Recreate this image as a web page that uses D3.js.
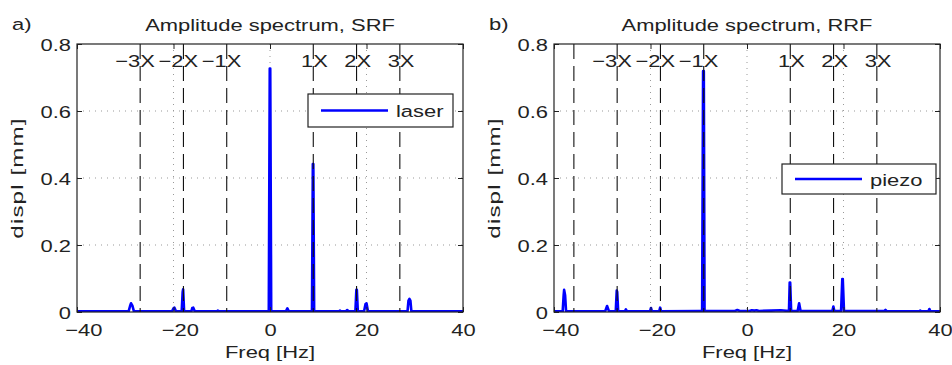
<!DOCTYPE html>
<html>
<head>
<meta charset="utf-8">
<script src="https://cdn.jsdelivr.net/npm/d3@7"></script>
<style>
  body { margin: 0; background: #fff; }
  svg text { font-family: "Liberation Sans", Arial, sans-serif; fill: #222; }
</style>
</head>
<body>
<svg id="chart" width="952" height="365"></svg>
<script>
// values
const xTicks = [-40, -20, 0, 20, 40]
const yTicks = [0, 0.2, 0.4, 0.6, 0.8]
const xGrid = [-20, 0, 20]
const yGrid = [0.2, 0.4, 0.6]
const rotorHz = 8.97

const ordersSRF = [-3, -2, -1, 1, 2, 3]
const labelsSRF = ['−3X', '−2X', '−1X', '1X', '2X', '3X']
const ordersRRF = [-4, -3, -2, -1, 1, 2, 3]
const labelsRRF = ['', '−3X', '−2X', '−1X', '1X', '2X', '3X']

// SRF (laser) amplitude spectrum
const srfFreq = [-40, -35, -29.3, -29.0, -28.8, -28.5, -28.2, -20.3, -20.0, -19.8, -19.5,
  -18.3, -18.1, -18.0, -17.8, -16.3, -16.1, -15.9, -15.6, -11.0, -10.8, -10.5,
  -0.25, -0.05, 0.05, 0.25, 3.3, 3.6, 3.9, 8.7, 8.88, 8.98, 9.15,
  14.3, 14.5, 14.7, 15.7, 16.0, 16.3, 17.7, 17.9, 18.0, 18.2,
  19.5, 19.8, 20.0, 20.3, 28.5, 28.7, 28.9, 29.1, 29.3, 40]
const srfAmp = [0.002, 0.002, 0.002, 0.018, 0.026, 0.018, 0.002, 0.002, 0.011, 0.013, 0.002,
  0.002, 0.060, 0.068, 0.002, 0.002, 0.012, 0.013, 0.002, 0.002, 0.004, 0.002,
  0.002, 0.727, 0.727, 0.002, 0.002, 0.011, 0.002, 0.002, 0.442, 0.442, 0.002,
  0.002, 0.004, 0.002, 0.002, 0.006, 0.002, 0.002, 0.066, 0.066, 0.002,
  0.002, 0.024, 0.026, 0.002, 0.002, 0.034, 0.039, 0.034, 0.002, 0.002]

// RRF (piezo) amplitude spectrum
const rrfFreq = [-40, -38.2, -38.0, -37.9, -37.7, -37.5, -29.4, -29.0, -28.6, -27.2, -27.0, -26.9, -26.7,
  -25.3, -25.1, -24.9, -20.1, -19.9, -19.7, -18.2, -18.0, -17.8, -10.0, -9.3, -9.1, -8.95, -8.8,
  -2.5, -2.0, -1.5, 0.5, 1.0, 1.5, 2.0, 2.5, 5.0, 7.0, 8.7, 8.85, 8.95, 9.15,
  10.5, 10.8, 11.1, 17.7, 17.9, 18.1, 19.5, 19.75, 19.85, 20.1,
  28.5, 28.7, 28.9, 35.7, 35.9, 36.1, 37.6, 37.8, 38.0, 40]
const rrfAmp = [0.002, 0.002, 0.050, 0.066, 0.050, 0.002, 0.002, 0.018, 0.002, 0.002, 0.064, 0.060, 0.002,
  0.002, 0.008, 0.002, 0.002, 0.012, 0.002, 0.002, 0.013, 0.002, 0.003, 0.003, 0.719, 0.719, 0.003,
  0.003, 0.006, 0.003, 0.003, 0.005, 0.004, 0.005, 0.003, 0.004, 0.005, 0.003, 0.088, 0.088, 0.003,
  0.003, 0.026, 0.003, 0.003, 0.016, 0.003, 0.003, 0.098, 0.098, 0.003,
  0.003, 0.006, 0.003, 0.002, 0.004, 0.002, 0.002, 0.009, 0.002, 0.002]

const SX = 1.29      // the printed figure is stretched horizontally
const FS = 17
const plotTop = 44, plotBottom = 312, plotW = 386

const panels = [
  { tag: 'a)', title: 'Amplitude spectrum, SRF', left: 77, freq: srfFreq, amp: srfAmp,
    orders: ordersSRF, labels: labelsSRF, legend: 'laser', lg: { x: 308, y: 94, w: 145, h: 33 } },
  { tag: 'b)', title: 'Amplitude spectrum, RRF', left: 554, freq: rrfFreq, amp: rrfAmp,
    orders: ordersRRF, labels: labelsRRF, legend: 'piezo', lg: { x: 782, y: 164, w: 154, h: 30 } }
]

const svg = d3.select('#chart')

function addText(sel, x, y, str, anchor) {
  return sel.append('text')
    .attr('transform', `translate(${x},${y}) scale(${SX},1)`)
    .attr('text-anchor', anchor)
    .style('font-size', FS + 'px')
    .text(str)
}

panels.forEach((p, pi) => {
  const x = d3.scaleLinear().domain([-40, 40]).range([p.left, p.left + plotW])
  const y = d3.scaleLinear().domain([0, 0.8]).range([plotBottom, plotTop])
  const g = svg.append('g')

  const clipId = 'clip' + pi
  g.append('clipPath').attr('id', clipId)
    .append('rect').attr('x', p.left).attr('y', plotTop).attr('width', plotW).attr('height', plotBottom - plotTop)

  // dotted grid
  g.append('g').selectAll('line').data(xGrid).join('line')
    .attr('x1', d => x(d)).attr('x2', d => x(d)).attr('y1', plotTop).attr('y2', plotBottom)
    .attr('stroke', '#999').attr('stroke-dasharray', '1,5')
  g.append('g').selectAll('line').data(yGrid).join('line')
    .attr('x1', p.left).attr('x2', p.left + plotW).attr('y1', d => y(d)).attr('y2', d => y(d))
    .attr('stroke', '#999').attr('stroke-dasharray', '1,5')

  // spectrum
  const pts = p.freq.map((f, i) => [f, p.amp[i]])
  g.append('path').datum(pts)
    .attr('clip-path', `url(#${clipId})`)
    .attr('fill', 'none').attr('stroke', '#0000ff').attr('stroke-width', 2.6)
    .attr('stroke-linejoin', 'round')
    .attr('d', d3.line().x(d => x(d[0])).y(d => y(d[1])))

  // harmonic order lines
  g.append('g').selectAll('line').data(p.orders).join('line')
    .attr('x1', d => x(d * rotorHz)).attr('x2', d => x(d * rotorHz))
    .attr('y1', plotTop).attr('y2', plotBottom)
    .attr('stroke', '#111').attr('stroke-width', 1.1).attr('stroke-dasharray', '15,7')
  p.orders.forEach((o, i) => {
    if (!p.labels[i]) return
    addText(g, x(o * rotorHz) + 0.667 * FS * SX, 67, p.labels[i], 'end')
  })

  // axes with inward ticks, mirrored on top/right
  const axB = g.append('g').attr('transform', `translate(0,${plotBottom})`)
    .call(d3.axisBottom(x).tickValues(xTicks).tickSize(-5).tickSizeOuter(0)
      .tickFormat(d => d < 0 ? '−' + Math.abs(d) : String(d)))
  axB.selectAll('.tick text')
    .attr('transform', `scale(${SX},1)`).attr('x', 0).attr('y', 24).attr('dy', null)
    .attr('dx', d => d < 0 ? '0.29em' : null)
  const axL = g.append('g').attr('transform', `translate(${p.left},0)`)
    .call(d3.axisLeft(y).tickValues(yTicks).tickSize(-5).tickSizeOuter(0)
      .tickFormat(d => d === 0 ? '0' : d3.format('.1f')(d)))
  axL.selectAll('.tick text')
    .attr('transform', `scale(${SX},1)`).attr('x', -6 / SX).attr('dy', '0.36em')
  g.append('g').attr('transform', `translate(0,${plotTop})`)
    .call(d3.axisTop(x).tickValues(xTicks).tickSize(-5).tickSizeOuter(0).tickFormat(''))
  g.append('g').attr('transform', `translate(${p.left + plotW},0)`)
    .call(d3.axisRight(y).tickValues(yTicks).tickSize(-5).tickSizeOuter(0).tickFormat(''))
  g.selectAll('.domain').remove()
  g.selectAll('.tick line').attr('stroke', '#222')
  g.selectAll('.tick text').attr('font-size', null).attr('font-family', null)
    .style('font-size', FS + 'px').attr('fill', '#222')

  g.append('rect').attr('x', p.left).attr('y', plotTop).attr('width', plotW).attr('height', plotBottom - plotTop)
    .attr('fill', 'none').attr('stroke', '#222').attr('stroke-width', 1.2)

  // legend
  const lg = g.append('g')
  lg.append('rect').attr('x', p.lg.x).attr('y', p.lg.y).attr('width', p.lg.w).attr('height', p.lg.h)
    .attr('fill', '#fff').attr('stroke', '#222').attr('stroke-width', 1.2)
  const ly = p.lg.y + p.lg.h / 2
  lg.append('line').attr('x1', p.lg.x + 13).attr('x2', p.lg.x + 80).attr('y1', ly).attr('y2', ly)
    .attr('stroke', '#0000ff').attr('stroke-width', 2.6)
  addText(lg, p.lg.x + 88, ly + 6.5, p.legend, 'start')

  // titles and axis labels
  addText(g, p.left + plotW / 2, 31, p.title, 'middle')
  addText(g, p.left - 65, 30, p.tag, 'start')
  addText(g, p.left + plotW / 2, 358, 'Freq [Hz]', 'middle')
  g.append('text')
    .attr('transform', `translate(${p.left - 54},${(plotTop + plotBottom) / 2}) rotate(-90) scale(1.42,1)`)
    .attr('text-anchor', 'middle').style('font-size', FS + 'px').style('letter-spacing', '0.8px')
    .text('displ [mm]')
})
</script>
</body>
</html>
